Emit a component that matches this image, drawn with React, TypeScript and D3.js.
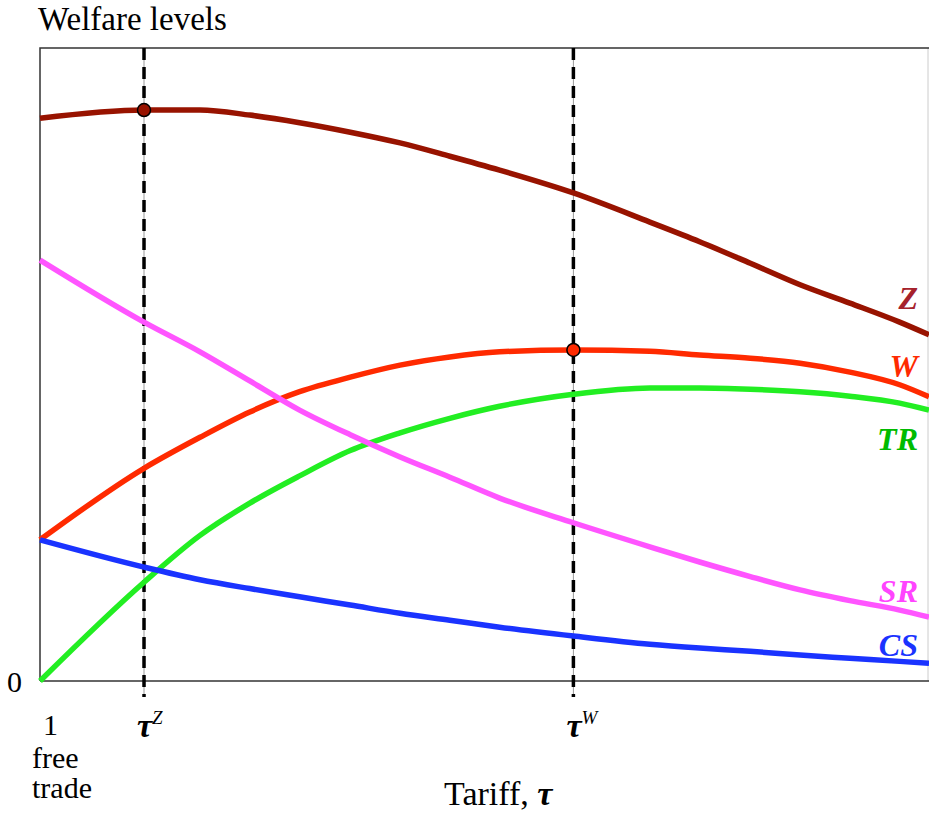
import * as d3 from "d3";

// tariff axis runs 0..10 (free trade at 0), welfare 0..100
const xs = [0, 1.17, 1.8, 2.36, 2.92, 3.49, 4.05, 4.61, 5.17, 6.0, 6.86, 7.42, 7.99, 8.55, 9.11, 9.67, 10];
const zVals = [88.9, 90.2, 90.2, 89.4, 88.2, 86.7, 85.0, 82.9, 80.7, 77.1, 72.5, 69.4, 66.0, 62.6, 59.7, 56.7, 54.7];
const wVals = [22.3, 33.6, 38.5, 42.5, 45.7, 48.0, 49.9, 51.2, 52.0, 52.3, 52.1, 51.5, 51.0, 50.2, 48.8, 46.8, 44.9];
const trVals = [0, 15.6, 23.0, 28.1, 32.4, 36.4, 39.2, 41.5, 43.4, 45.3, 46.3, 46.3, 46.1, 45.7, 45.0, 43.9, 42.8];
const srVals = [66.5, 56.7, 52.0, 47.4, 42.8, 38.9, 35.4, 32.2, 28.9, 25.0, 21.2, 18.8, 16.5, 14.4, 12.7, 11.2, 10.1];
const csVals = [22.3, 18.0, 16.0, 14.6, 13.3, 12.0, 10.7, 9.6, 8.5, 7.1, 5.8, 5.2, 4.7, 4.1, 3.6, 3.1, 2.8];

const tauZ = 1.17;
const tauW = 6.0;

const series = [
  { name: "Z", vals: zVals, line: "#981300", label: "#a5222c", dy: -26 },
  { name: "W", vals: wVals, line: "#ff2a00", label: "#ff2a00", dy: -20 },
  { name: "TR", vals: trVals, line: "#22ee22", label: "#00bb00", dy: 40 },
  { name: "SR", vals: srVals, line: "#ff55ff", label: "#ff44ff", dy: -15 },
  { name: "CS", vals: csVals, line: "#1a33ff", label: "#1a33ff", dy: -7 },
];

const W = 929;
const H = 814;
const left = 40, right = 929, top = 48, bottom = 681;

export default function App() {
  const x = d3.scaleLinear().domain([0, 10]).range([left, right]);
  const y = d3.scaleLinear().domain([0, 100]).range([bottom, top]);
  const line = d3
    .line<number>()
    .x((_, i) => x(xs[i]))
    .y((d) => y(d))
    .curve(d3.curveMonotoneX);
  const font = "'Liberation Serif', 'Times New Roman', serif";
  const zAt = (t: number) => zVals[xs.indexOf(t)];
  const wAt = (t: number) => wVals[xs.indexOf(t)];

  return (
    <svg width={W} height={H} style={{ position: "absolute", left: 0, top: 0 }} fontFamily={font}>
      <rect x={0} y={0} width={W} height={H} fill="white" />
      <text x={38} y={30} fontSize={33}>Welfare levels</text>

      {/* frame */}
      <line x1={right - 1} x2={right - 1} y1={top} y2={bottom} stroke="#ccc" strokeWidth={1} />
      <path d={`M${left},${bottom}V${top}H${right}`} fill="none" stroke="#333" strokeWidth={1.5} />
      <line x1={left} x2={right} y1={bottom} y2={bottom} stroke="#333" strokeWidth={1.5} />

      {/* tariff reference lines */}
      {[tauZ, tauW].map((t) => (
        <g key={t}>
          <line x1={x(t)} x2={x(t)} y1={top} y2={bottom + 16} stroke="#999" strokeWidth={1} />
          <line x1={x(t)} x2={x(t)} y1={top} y2={bottom + 16} stroke="#000" strokeWidth={3.5} strokeDasharray="12 7" />
        </g>
      ))}

      {series.map((s) => (
        <path key={s.name} d={line(s.vals) ?? ""} fill="none" stroke={s.line} strokeWidth={5.5} strokeLinejoin="round" />
      ))}

      <circle cx={x(tauZ)} cy={y(zAt(tauZ))} r={6.5} fill="#981300" stroke="#000" strokeWidth={1.5} />
      <circle cx={x(tauW)} cy={y(wAt(tauW))} r={6.5} fill="#ff2a00" stroke="#000" strokeWidth={1.5} />

      {series.map((s) => (
        <text
          key={s.name}
          x={918}
          y={y(s.vals[s.vals.length - 1]) + s.dy}
          textAnchor="end"
          fontSize={32}
          fontWeight="bold"
          fontStyle="italic"
          fill={s.label}
        >
          {s.name}
        </text>
      ))}

      <text x={7} y={692} fontSize={30}>0</text>
      <text x={x(0) + 3} y={735} fontSize={30}>1</text>
      <text x={32} y={768} fontSize={30}>free</text>
      <text x={32} y={798} fontSize={30}>trade</text>

      <text x={x(tauZ) - 7} y={737} fontSize={34} fontStyle="italic" fontWeight="bold">
        τ<tspan fontSize={19} dy={-13} fontWeight="normal">Z</tspan>
      </text>
      <text x={x(tauW) - 7} y={737} fontSize={34} fontStyle="italic" fontWeight="bold">
        τ<tspan fontSize={19} dy={-13} fontWeight="normal">W</tspan>
      </text>

      <text x={444} y={805} fontSize={34}>
        Tariff, <tspan fontStyle="italic" fontWeight="bold">τ</tspan>
      </text>
    </svg>
  );
}
